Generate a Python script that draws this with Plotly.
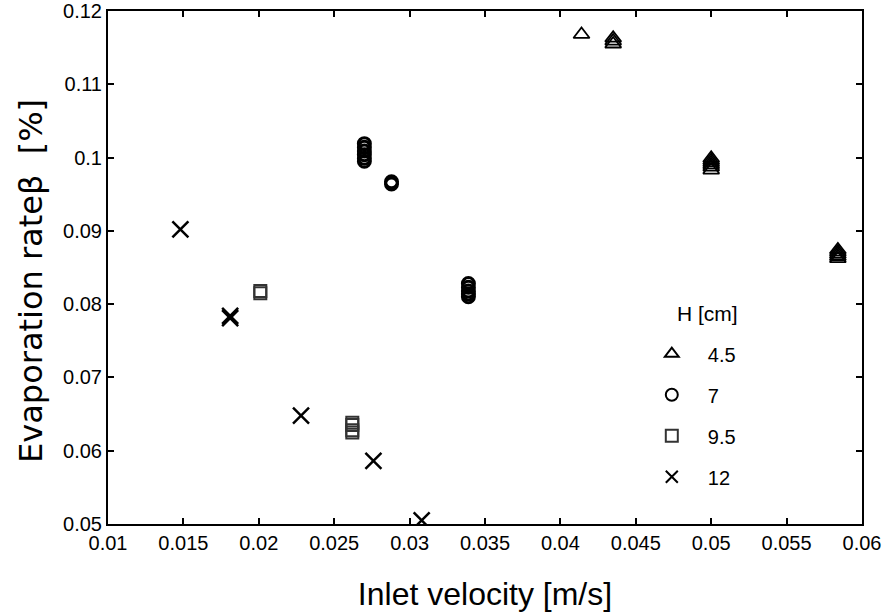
import plotly.graph_objects as go

# H = 4.5 cm (triangles)
tri_x = [0.0414, 0.0435, 0.0435, 0.0435, 0.05, 0.05, 0.05, 0.05, 0.05, 0.05, 0.0584, 0.0584, 0.0584, 0.0584, 0.0584]
tri_y = [0.1168, 0.1163, 0.1159, 0.1155, 0.0999, 0.0996, 0.0993, 0.0990, 0.0987, 0.0983, 0.0874, 0.0871, 0.0868, 0.0865, 0.0862]
# H = 7 cm (circles)
cir_x = [0.0270, 0.0270, 0.0270, 0.0270, 0.0270, 0.0270, 0.0288, 0.0288, 0.0339, 0.0339, 0.0339, 0.0339, 0.0339]
cir_y = [0.1019, 0.1014, 0.1009, 0.1004, 0.0999, 0.0995, 0.0967, 0.0964, 0.0828, 0.0823, 0.0818, 0.0814, 0.0810]
# H = 9.5 cm (squares)
sq_x = [0.0201, 0.0201, 0.0262, 0.0262, 0.0262, 0.0262]
sq_y = [0.0818, 0.0815, 0.0638, 0.0635, 0.0628, 0.0625]
# H = 12 cm (crosses)
cr_x = [0.0148, 0.0181, 0.0181, 0.0228, 0.0276, 0.0308]
cr_y = [0.0902, 0.0784, 0.0781, 0.0648, 0.0586, 0.0505]

names = ["4.5", "7", "9.5", "12"]
legend_title = "H [cm]"
x_title = "Inlet velocity [m/s]"
y_title = "Evaporation rate\u03b2\u00a0 [%]"

FONT = "Liberation Sans, Arial"
YFONT = "DejaVu Sans"

fig = go.Figure()
fig.add_trace(go.Scatter(x=tri_x, y=tri_y, mode="markers", name=names[0], legendgroup="a",
                         marker=dict(symbol="triangle-up-open", size=14, color="black", line=dict(width=1.8))))
fig.add_trace(go.Scatter(x=cir_x, y=cir_y, mode="markers", name=names[1], legendgroup="b",
                         marker=dict(symbol="circle-open", size=12, color="black", line=dict(width=3))))
fig.add_trace(go.Scatter(x=sq_x, y=sq_y, mode="markers", name=names[2], legendgroup="c",
                         marker=dict(symbol="square-open", size=12, color="#333333", line=dict(width=2))))
fig.add_trace(go.Scatter(x=cr_x, y=cr_y, mode="markers", name=names[3], legendgroup="d",
                         marker=dict(symbol="x-thin-open", size=16, color="black", line=dict(width=2.5))))

axis_common = dict(showgrid=False, zeroline=False, showline=True, linecolor="black", linewidth=2,
                   mirror="ticks", ticks="inside", ticklen=6, tickwidth=1.5, tickcolor="black",
                   tickfont=dict(family=FONT, size=20, color="black"), automargin=False)

fig.update_xaxes(range=[0.01, 0.06], dtick=0.005, tick0=0.01,
                 title=dict(text=x_title, font=dict(family=FONT, size=32, color="black"), standoff=30),
                 **axis_common)
fig.update_yaxes(range=[0.05, 0.12], dtick=0.01, tick0=0.05, **axis_common)

fig.add_annotation(text=y_title, textangle=-90, xref="paper", yref="paper",
                   x=-0.102, y=0.474, xanchor="center", yanchor="middle", showarrow=False,
                   font=dict(family=YFONT, size=32, color="black"))
fig.add_annotation(text=legend_title, xref="paper", yref="paper",
                   x=0.752, y=0.41, xanchor="left", yanchor="middle", showarrow=False,
                   font=dict(family=FONT, size=21, color="black"))

fig.update_layout(
    width=888, height=616,
    margin=dict(l=108, r=26, t=11, b=92, autoexpand=False),
    plot_bgcolor="white", paper_bgcolor="white",
    font=dict(family=FONT, color="black"),
    showlegend=True,
    legend=dict(x=0.700, y=0.370, xanchor="left", yanchor="top",
                font=dict(family=FONT, size=20), tracegroupgap=12, itemwidth=62,
                bgcolor="rgba(0,0,0,0)", itemsizing="constant"),
)

fig.write_html("out.html")
